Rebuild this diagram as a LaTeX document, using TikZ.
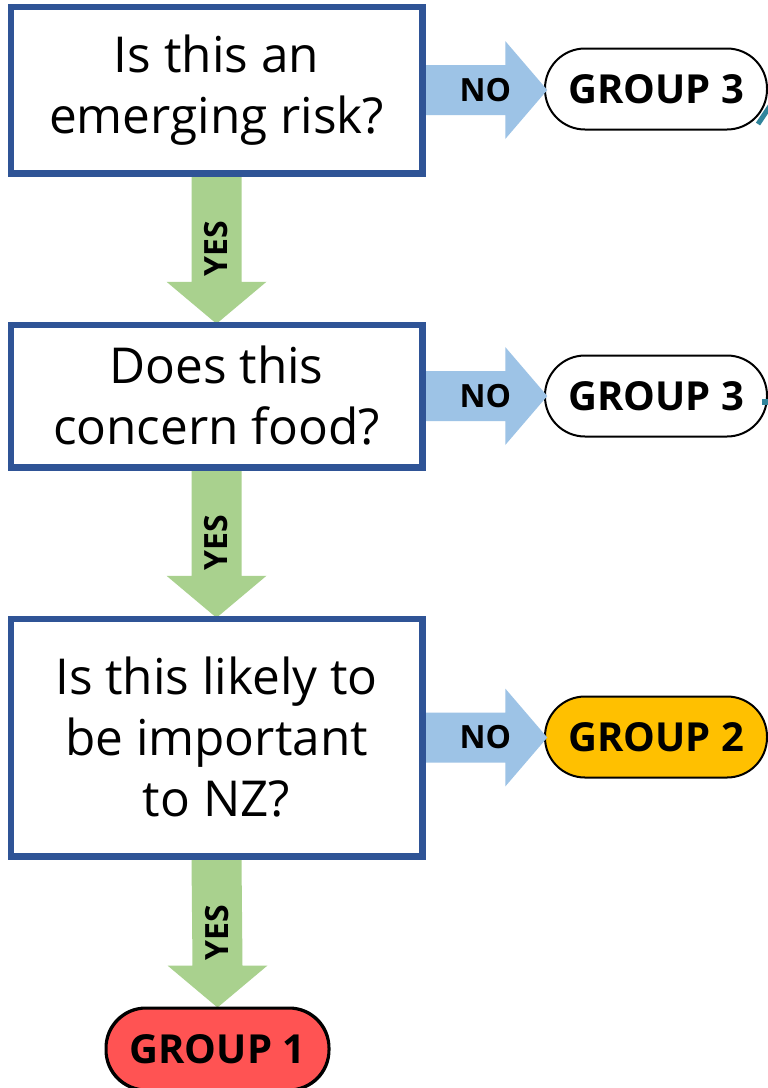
\documentclass[tikz,border=0pt]{standalone}
\usepackage{fontspec}
\setmainfont{Open Sans}
\usetikzlibrary{calc}
\definecolor{boxblue}{HTML}{2F5496}
\definecolor{noblue}{HTML}{9DC3E6}
\definecolor{yesgreen}{HTML}{A9D18E}
\definecolor{gyellow}{HTML}{FFC000}
\definecolor{gred}{HTML}{FF5353}
\definecolor{teal}{HTML}{31859C}
\tikzset{
  qbox/.style={draw=boxblue, line width=4.5pt, fill=white, inner sep=0pt,
    minimum width=409pt, align=center, font=\fontsize{49.5}{61}\selectfont},
  pill/.style={draw=black, line width=2pt, rounded corners=40pt, inner sep=0pt,
    minimum width=222pt, minimum height=81pt, font=\bfseries\fontsize{40}{40}\selectfont},
  noarr/.style={fill=noblue},
  yesarr/.style={fill=yesgreen},
  lbl/.style={font=\bfseries\fontsize{32}{32}\selectfont, inner sep=0pt},
  ylbl/.style={font=\bfseries\fontsize{32}{32}\selectfont, inner sep=0pt, rotate=90},
}
\begin{document}
\begin{tikzpicture}[x=1pt,y=-1pt]
\useasboundingbox (0,0) rectangle (768,1088);
\fill[white] (0,0) rectangle (768,1088);
\begin{scope}
\clip (0,0) rectangle (768,1088);
% question boxes
\node[qbox, minimum height=164pt] (b1) at (216.5,90) {Is this an\\emerging risk?};
\node[qbox, minimum height=140pt] (b2) at (216.5,396) {Does this\\concern food?};
\node[qbox, minimum height=235pt] (b3) at (216.5,737.5) {Is this likely to\\be important\\to NZ?};
% outcome pills
\node[pill, fill=white] (g3a) at (656,89) {GROUP 3};
\node[pill, fill=white] (g3b) at (656,396) {GROUP 3};
\node[pill, fill=gyellow] (g2) at (656,737) {GROUP 2};
\node[pill, fill=gred] (g1) at (217.5,1049) {GROUP 1};
% NO arrows
\foreach \b/\n in {b1/na, b2/nb, b3/nc}{
  \path (\b.east) coordinate (\n s);
  \fill[noarr] ($(\n s)+(-2,-25)$) -- ($(\n s)+(82,-25)$) -- ($(\n s)+(82,-49)$)
     -- ($(\n s)+(124,0)$) -- ($(\n s)+(82,49)$) -- ($(\n s)+(82,25)$) -- ($(\n s)+(-2,25)$) -- cycle;
  \node[lbl] at ($(\n s)+(62,0)$) {NO};
}
% YES arrows
\foreach \a/\b/\n in {b1/b2/ya, b2/b3/yb, b3/g1/yc}{
  \path (\a.south) coordinate (\n s) (\b.north) coordinate (\n e);
  \fill[yesarr] ($(\n s)+(-25,2)$) -- ($(\n e)+(-25,-42)$) -- ($(\n e)+(-50,-42)$)
     -- (\n e) -- ($(\n e)+(50,-42)$) -- ($(\n e)+(25,-42)$) -- ($(\n s)+(25,2)$) -- cycle;
  \node[ylbl] at ($(\n s)!0.5!(\n e)$) {YES};
}
% redraw box borders over arrow ends
\foreach \b in {b1,b2,b3}{ \draw[boxblue, line width=4.5pt] (\b.south west) rectangle (\b.north east); }
\draw[black, line width=2pt, rounded corners=40pt] (g1.south west) rectangle (g1.north east);
% cropped teal connector fragments at the right edge
\coordinate (t1) at (758,124);
\coordinate (t2) at (770,106);
\draw[teal, line width=5pt] (t1) -- (t2);
\fill[teal] (762,399) rectangle (768,405);
\end{scope}
\end{tikzpicture}
\end{document}
